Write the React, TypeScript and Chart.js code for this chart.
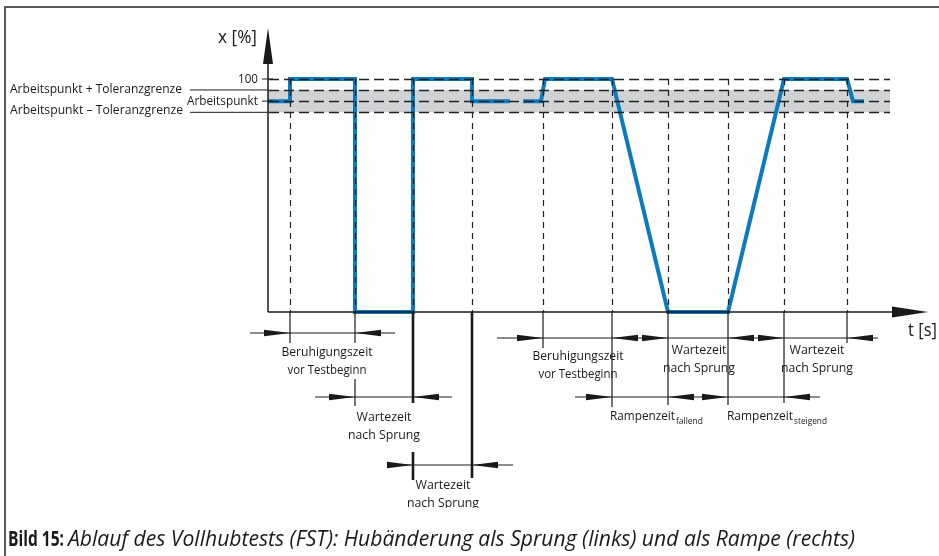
import React, { useEffect, useRef } from "react";
import { Chart, registerables } from "chart.js";

Chart.register(...registerables);

// ---------- data (x = time units, y = travel in %) ----------
const workingPoint = 90.5;
const tolerance = 4.8;
const fullStroke = 100;

// Sprung (step) test
const stepTimes = [0, 2.2, 2.2, 8.7, 8.7, 14.5, 14.5, 20.4, 20.4, 24.2];
const stepValues = [90.5, 90.5, 100, 100, 0, 0, 100, 100, 90.5, 90.5];

// Rampe (ramp) test
const rampTimes = [25.5, 27.3, 27.7, 34.4, 40.0, 46.0, 51.6, 57.9, 58.5, 59.6];
const rampValues = [90.5, 90.5, 100, 100, 0, 0, 100, 100, 90.5, 90.5];

// event instants (vertical dashed marks)
const eventTimes = [2.2, 8.7, 14.5, 20.4, 27.5, 34.4, 40.0, 46.0, 51.6, 57.9];

const bandEnd = 62.2;
const xMin = 0;
const xMax = 66;

const yAxisLabel = "x [%]";
const xAxisLabel = "t [s]";
const tickLabel100 = "100";
const labelWP = "Arbeitspunkt";
const labelWPplus = "Arbeitspunkt + Toleranzgrenze";
const labelWPminus = "Arbeitspunkt \u2013 Toleranzgrenze";
const captionBold = "Bild 15:";
const captionItalic =
  "Ablauf des Vollhubtests (FST): Hub\u00e4nderung als Sprung (links) und als Rampe (rechts)";

const FONT = '"Open Sans", "Liberation Sans", sans-serif';

type Align = "left" | "center" | "right";

function drawText(
  ctx: CanvasRenderingContext2D,
  str: string,
  px: number,
  py: number,
  size: number,
  width: number | null,
  align: Align = "left",
  style = "",
  color = "#1a1a1a"
) {
  ctx.save();
  ctx.font = `${style} ${size}px ${FONT}`;
  ctx.fillStyle = color;
  ctx.textAlign = align;
  ctx.textBaseline = "middle";
  let sx = 1;
  if (width) {
    const w = ctx.measureText(str).width;
    if (w > 0) sx = width / w;
  }
  ctx.translate(px, py);
  ctx.scale(sx, 1);
  ctx.fillText(str, 0, 0);
  ctx.restore();
}

const annotationPlugin = {
  id: "fstAnnotations",
  beforeDatasetsDraw(chart: any) {
    const { ctx } = chart;
    const x = chart.scales.x;
    const y = chart.scales.y;
    const X = (t: number) => x.getPixelForValue(t);
    const Y = (v: number) => y.getPixelForValue(v);
    ctx.save();
    // frame
    ctx.strokeStyle = "#5a5a5a";
    ctx.lineWidth = 2;
    ctx.beginPath();
    ctx.moveTo(5, 556);
    ctx.lineTo(5, 7);
    ctx.lineTo(939, 7);
    ctx.stroke();
    // tolerance band
    ctx.fillStyle = "#d1d2d4";
    const yt = Y(workingPoint + tolerance);
    const yb = Y(workingPoint - tolerance);
    ctx.fillRect(X(0), yt, X(bandEnd) - X(0), yb - yt);
    ctx.restore();
  },
  afterDatasetsDraw(chart: any) {
    const { ctx } = chart;
    const x = chart.scales.x;
    const y = chart.scales.y;
    const X = (t: number) => x.getPixelForValue(t);
    const Y = (v: number) => y.getPixelForValue(v);
    const axisY = Y(0);
    const axisX = X(0);
    const ink = "#1a1a1a";

    const line = (x0: number, y0: number, x1: number, y1: number) => {
      ctx.beginPath();
      ctx.moveTo(x0, y0);
      ctx.lineTo(x1, y1);
      ctx.stroke();
    };

    ctx.save();
    // dashed horizontal reference lines
    ctx.strokeStyle = "#222222";
    ctx.lineWidth = 1.4;
    ctx.setLineDash([10, 5]);
    [fullStroke, workingPoint + tolerance, workingPoint, workingPoint - tolerance].forEach((v) =>
      line(axisX + 1, Math.round(Y(v)) + 0.5, X(bandEnd), Math.round(Y(v)) + 0.5)
    );
    // dashed verticals
    ctx.lineWidth = 1.2;
    ctx.setLineDash([6, 5]);
    eventTimes.forEach((t) =>
      line(Math.round(X(t)) + 0.5, Y(fullStroke), Math.round(X(t)) + 0.5, axisY)
    );
    ctx.setLineDash([]);

    // left labels with leader lines
    ctx.strokeStyle = ink;
    ctx.lineWidth = 1;
    line(190, Y(workingPoint + tolerance), axisX, Y(workingPoint + tolerance));
    line(190, Y(workingPoint - tolerance), axisX, Y(workingPoint - tolerance));
    line(axisX - 6, Y(fullStroke), axisX + 5, Y(fullStroke));
    line(axisX - 6, Y(workingPoint), axisX + 5, Y(workingPoint));

    drawText(ctx, labelWPplus, 10, Y(workingPoint + tolerance) - 1, 13, 172, "left");
    drawText(ctx, labelWPminus, 10, Y(workingPoint - tolerance) - 2, 13, 173, "left");
    drawText(ctx, labelWP, 258, Y(workingPoint), 13, 71, "right");
    drawText(ctx, tickLabel100, 258, Y(fullStroke), 13, 20, "right");

    // axes
    ctx.fillStyle = ink;
    ctx.lineWidth = 1.5;
    line(axisX, 62, axisX, axisY);
    line(axisX, axisY, 895, axisY);
    ctx.beginPath();
    ctx.moveTo(axisX, 28);
    ctx.lineTo(axisX - 5, 64);
    ctx.lineTo(axisX + 5, 64);
    ctx.closePath();
    ctx.fill();
    ctx.beginPath();
    ctx.moveTo(X(xMax), axisY);
    ctx.lineTo(X(xMax) - 36, axisY - 5.5);
    ctx.lineTo(X(xMax) - 36, axisY + 5.5);
    ctx.closePath();
    ctx.fill();
    drawText(ctx, yAxisLabel, 257, 38, 19, 39, "right");
    drawText(ctx, xAxisLabel, 908, 331, 19, 29, "left");

    // extension lines
    const ext = (t: number, y0: number, y1: number, w = 1.2) => {
      ctx.lineWidth = w;
      line(X(t), axisY + y0, X(t), axisY + y1);
    };
    ext(eventTimes[0], 0, 31);
    ext(eventTimes[1], 0, 31);
    ext(eventTimes[1], 67, 94);
    ext(eventTimes[2], 0, 91, 2.6);
    ext(eventTimes[2], 140, 168, 2.6);
    ext(eventTimes[3], 0, 166, 2.6);
    ext(eventTimes[4], 0, 36);
    ext(eventTimes[5], 0, 95);
    ext(eventTimes[6], 0, 93);
    ext(eventTimes[7], 0, 93);
    ext(eventTimes[8], 0, 91);
    ext(eventTimes[9], 0, 31);

    // dimension lines
    const arrow = (tip: number, yy: number, dir: number) => {
      const L = 26;
      const H = 3.3;
      const px = X(tip);
      ctx.beginPath();
      ctx.moveTo(px, yy);
      ctx.lineTo(px - dir * L, yy - H);
      ctx.lineTo(px - dir * L, yy + H);
      ctx.closePath();
      ctx.fill();
    };
    const dim = (off: number, from: number, to: number, arrows: [number, number][]) => {
      const yy = axisY + off;
      ctx.lineWidth = 1;
      line(X(from), yy, X(to), yy);
      arrows.forEach(([t, d]) => arrow(t, yy, d));
    };
    dim(21, -1.8, 12.7, [[eventTimes[0], 1], [eventTimes[1], -1]]);
    dim(85, 4.7, 18.4, [[eventTimes[1], 1], [eventTimes[2], -1]]);
    dim(153, 11.9, 24.5, [[eventTimes[2], 1], [eventTimes[3], -1]]);
    dim(26, 22.9, 61.0, [
      [eventTimes[4], 1],
      [eventTimes[5], -1],
      [eventTimes[6], 1],
      [eventTimes[7], -1],
      [eventTimes[8], 1],
      [eventTimes[9], -1],
    ]);
    dim(85, 30.7, 55.2, [
      [eventTimes[5], 1],
      [eventTimes[6], -1],
      [eventTimes[7], 1],
      [eventTimes[8], -1],
    ]);

    // interval texts
    const two = (cx: number, y0: number, a: string, b: string) => {
      const wa = a === "Wartezeit" ? 55 : 91;
      const wb = b === "nach Sprung" ? 72 : 79;
      drawText(ctx, a, X(cx), y0, 13, wa, "center");
      drawText(ctx, b, X(cx), y0 + 18, 13, wb, "center");
    };
    two(5.9, 352, "Beruhigungszeit", "vor Testbeginn");
    two(11.6, 417, "Wartezeit", "nach Sprung");
    ctx.save();
    ctx.beginPath();
    ctx.rect(0, 0, 939, 508);
    ctx.clip();
    two(17.5, 485, "Wartezeit", "nach Sprung");
    ctx.restore();
    two(31.0, 356, "Beruhigungszeit", "vor Testbeginn");
    two(43.1, 350, "Wartezeit", "nach Sprung");
    two(54.9, 350, "Wartezeit", "nach Sprung");

    // Rampenzeit labels with subscripts
    drawText(ctx, "Rampenzeit", X(34.2), 416, 13, 65, "left");
    drawText(ctx, "fallend", X(34.2) + 66, 421, 9, 27, "left");
    drawText(ctx, "Rampenzeit", X(45.9), 416, 13, 66, "left");
    drawText(ctx, "steigend", X(45.9) + 67, 421, 9, 33, "left");

    // caption
    drawText(ctx, captionBold, 8, 540, 21, 56, "left", "bold");
    drawText(ctx, captionItalic, 68, 540, 21, 787, "left", "italic");

    ctx.restore();
  },
};

export default function App() {
  const canvasRef = useRef<HTMLCanvasElement | null>(null);

  useEffect(() => {
    document.body.style.margin = "0";
    const canvas = canvasRef.current;
    if (!canvas) return;
    const blue = "#0a7bc0";
    const chart = new Chart(canvas, {
      type: "line",
      data: {
        datasets: [
          {
            label: "Sprung",
            data: stepTimes.map((t, i) => ({ x: t, y: stepValues[i] })),
            borderColor: blue,
            borderWidth: 4,
            pointRadius: 0,
            tension: 0,
            fill: false,
            clip: false as any,
            borderJoinStyle: "miter",
            borderCapStyle: "butt",
          },
          {
            label: "Rampe",
            data: rampTimes.map((t, i) => ({ x: t, y: rampValues[i] })),
            borderColor: blue,
            borderWidth: 4,
            pointRadius: 0,
            tension: 0,
            fill: false,
            clip: false as any,
            borderJoinStyle: "miter",
            borderCapStyle: "butt",
          },
        ],
      },
      options: {
        responsive: false,
        animation: false,
        devicePixelRatio: 1,
        layout: { padding: { left: 268, right: 11, top: 79, bottom: 244 } },
        scales: {
          x: { type: "linear", min: xMin, max: xMax, display: false },
          y: { type: "linear", min: 0, max: 100, display: false },
        },
        plugins: {
          legend: { display: false },
          tooltip: { enabled: false },
        },
        events: [],
      },
      plugins: [annotationPlugin],
    });
    return () => chart.destroy();
  }, []);

  return (
    <div style={{ width: 939, height: 556, background: "#ffffff" }}>
      <canvas ref={canvasRef} width={939} height={556} style={{ display: "block" }} />
    </div>
  );
}
